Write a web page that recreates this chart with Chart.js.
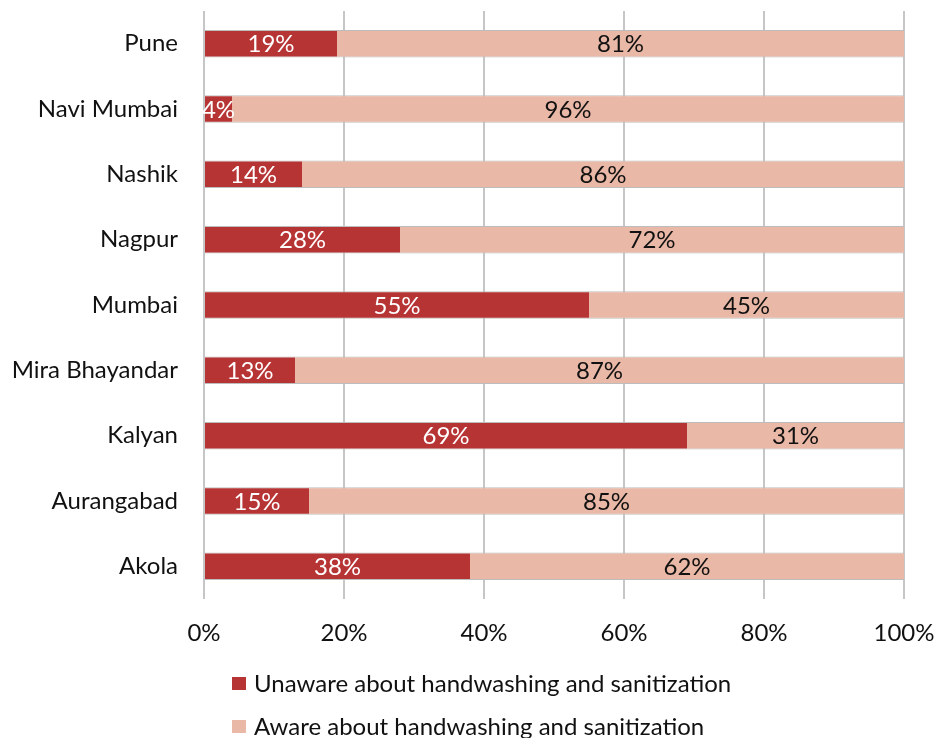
<!DOCTYPE html>
<html>
<head>
<meta charset="utf-8">
<script src="https://cdn.jsdelivr.net/npm/chart.js@4"></script>
<style>
  html, body { margin: 0; padding: 0; background: #ffffff; }
  #wrap { width: 934px; height: 738px; }
</style>
</head>
<body>
<div id="wrap"><canvas id="c" width="934" height="738"></canvas></div>
<script>
// Awareness about handwashing and sanitization, by city (percent of respondents)
const cities = ['Pune', 'Navi Mumbai', 'Nashik', 'Nagpur', 'Mumbai', 'Mira Bhayandar', 'Kalyan', 'Aurangabad', 'Akola'];
const unaware = [19, 4, 14, 28, 55, 13, 69, 15, 38];
const aware = [81, 96, 86, 72, 45, 87, 31, 85, 62];
const xTicks = [0, 20, 40, 60, 80, 100];
const seriesNames = ['Unaware about handwashing and sanitization', 'Aware about handwashing and sanitization'];

const FONT = 'Lato, "Open Sans", sans-serif';
const FONT_SIZE = 24;
const DARK = '#B73435';
const LIGHT = '#EAB8A6';
const EDGE = '#BDBDBD';

// Writes each segment's percentage at the middle of its bar piece
const segmentLabels = {
  id: 'segmentLabels',
  afterDatasetsDraw(chart) {
    const ctx = chart.ctx;
    ctx.save();
    ctx.font = FONT_SIZE + 'px ' + FONT;
    ctx.textAlign = 'center';
    ctx.textBaseline = 'middle';
    chart.data.datasets.forEach((ds, di) => {
      const meta = chart.getDatasetMeta(di);
      meta.data.forEach((bar, i) => {
        const p = bar.getProps(['x', 'y', 'base'], true);
        ctx.fillStyle = di === 0 ? '#ffffff' : '#111111';
        ctx.fillText(ds.data[i] + '%', (p.x + p.base) / 2, p.y + 1);
      });
    });
    ctx.restore();
  }
};

// Two-row legend, left aligned under the plot
const stackedLegend = {
  id: 'stackedLegend',
  afterDraw(chart) {
    const ctx = chart.ctx;
    ctx.save();
    ctx.font = FONT_SIZE + 'px ' + FONT;
    ctx.textAlign = 'left';
    ctx.textBaseline = 'middle';
    chart.data.datasets.forEach((ds, di) => {
      const cy = 683 + di * 43;
      ctx.fillStyle = ds.backgroundColor;
      ctx.fillRect(232, cy - 6, 14, 13);
      ctx.fillStyle = '#111111';
      ctx.fillText(ds.label, 254, cy + 1);
    });
    ctx.restore();
  }
};

new Chart(document.getElementById('c'), {
  type: 'bar',
  data: {
    labels: cities,
    datasets: [
      {
        label: seriesNames[0],
        data: unaware,
        backgroundColor: DARK,
        borderColor: EDGE,
        borderWidth: { top: 1, bottom: 1, left: 0, right: 0 },
        borderSkipped: false,
        categoryPercentage: 1,
        barPercentage: 0.42
      },
      {
        label: seriesNames[1],
        data: aware,
        backgroundColor: LIGHT,
        borderColor: EDGE,
        borderWidth: { top: 1, bottom: 1, left: 0, right: 0 },
        borderSkipped: false,
        categoryPercentage: 1,
        barPercentage: 0.42
      }
    ]
  },
  options: {
    indexAxis: 'y',
    responsive: false,
    animation: false,
    devicePixelRatio: 1,
    layout: { padding: { top: 11, right: 30, bottom: 90, left: 0 } },
    plugins: {
      legend: { display: false },
      tooltip: { enabled: false }
    },
    scales: {
      x: {
        stacked: true,
        min: 0,
        max: 100,
        afterBuildTicks(scale) {
          scale.ticks = xTicks.map(v => ({ value: v }));
        },
        afterFit(scale) {
          scale.height = 49;
          scale.paddingLeft = 0;
          scale.paddingRight = 0;
        },
        ticks: {
          callback: v => v + '%',
          color: '#111111',
          font: { family: FONT, size: FONT_SIZE },
          padding: 20,
          maxRotation: 0
        },
        grid: { color: '#C6C6C6', lineWidth: 2, drawTicks: false },
        border: { display: false }
      },
      y: {
        stacked: true,
        afterFit(scale) {
          scale.width = 204;
          scale.paddingTop = 0;
          scale.paddingBottom = 0;
        },
        ticks: {
          color: '#111111',
          font: { family: FONT, size: FONT_SIZE },
          padding: 18
        },
        grid: { display: false },
        border: { display: false }
      }
    }
  },
  plugins: [segmentLabels, stackedLegend]
});
</script>
</body>
</html>
